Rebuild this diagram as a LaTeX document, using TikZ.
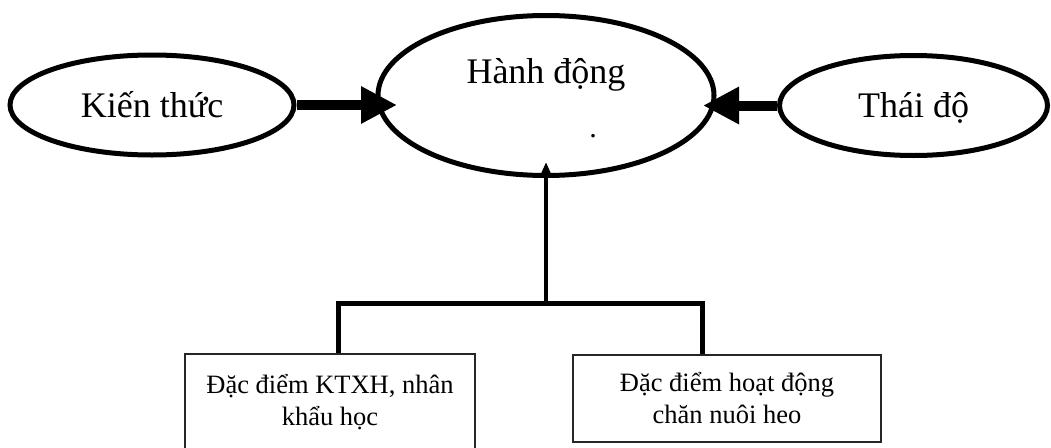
\documentclass[tikz,border=0pt]{standalone}
\usepackage{fontspec}
\setmainfont{Liberation Serif}
\usetikzlibrary{shapes.geometric,arrows.meta}

\begin{document}
\begin{tikzpicture}[x=1pt, y=-1pt,
		oval/.style={ellipse, draw, line width=5pt, inner sep=0pt,
			font=\fontsize{36}{40}\selectfont},
		factor/.style={draw=black!85, line width=2pt, align=center,
			font=\fontsize{26.5}{32}\selectfont},
		bigarrow/.style={line width=10pt, -{Triangle[length=36pt,width=35pt]}},
		link/.style={line width=5pt}
		]
	\useasboundingbox (0,0) rectangle (1051,447);
	% the three ovals
	\node [oval, minimum width=284pt, minimum height=100pt,
		text height=30pt, text depth=6pt] (kt) at (152,105) {Kiến thức};
	\node [oval, minimum width=336pt, minimum height=160pt] (act) at (546,95.5) {};
	\node [font=\fontsize{36}{40}\selectfont, anchor=base] (actname) at (546,83) {Hành động};
	\node [font=\fontsize{30}{34}\selectfont, inner sep=0pt] (mark) at (593,136) {.};
	\node [oval, minimum width=268pt, minimum height=100pt,
		text height=30pt, text depth=6pt] (td) at (913.5,105.5) {Thái độ};
	% the two boxes
	\node [factor, minimum width=290pt, minimum height=96pt] (lbox) at (330,402)
		{Đặc điểm KTXH, nhân\\khẩu học};
	\node [factor, minimum width=308pt, minimum height=87pt] (rbox) at (727,398.5)
		{Đặc điểm hoạt động\\chăn nuôi heo};
	% arrows
	\draw [bigarrow, shorten >=-21.5pt] (kt.east) -- (kt.east -| act.west);
	\draw [bigarrow, shorten >=-13.5pt] (td.west) -- (td.west -| act.east);
	\coordinate (fork) at (546,303);
	\draw [link] ([xshift=8pt]lbox.north) |- (fork) -| ([xshift=-25pt]rbox.north);
	\draw [line width=4.5pt, -{Triangle[length=14pt,width=11pt]}, shorten >=-16pt]
		(fork) -- (fork |- act.south);
\end{tikzpicture}
\end{document}
